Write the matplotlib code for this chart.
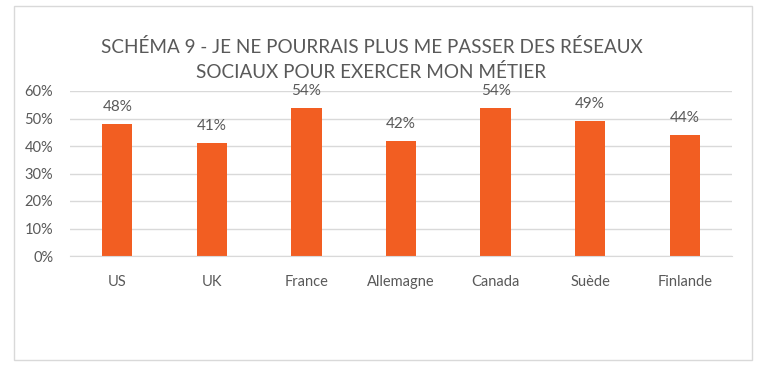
import matplotlib.pyplot as plt
from matplotlib.patches import Rectangle
from matplotlib.ticker import PercentFormatter

pays = ['US', 'UK', 'France', 'Allemagne', 'Canada', 'Suède', 'Finlande']
valeurs = [48, 41, 54, 42, 54, 49, 44]

orange = '#F25E22'
gris = '#595959'

plt.rcParams['font.family'] = ['Lato', 'DejaVu Sans']

fig = plt.figure(figsize=(7.58, 3.71), dpi=100)
# cadre gris autour du graphique
fig.patches.append(Rectangle((14 / 758, 1 - 360 / 371), 738 / 758, 354 / 371,
                             transform=fig.transFigure, fill=False,
                             edgecolor='#D9D9D9', lw=1))

ax = fig.add_axes([70 / 758, 1 - 256 / 371, 662 / 758, 165 / 371])
x = range(len(pays))
bars = ax.bar(x, valeurs, width=0.32, color=orange, zorder=2)
for b, v in zip(bars, valeurs):
    ax.text(b.get_x() + b.get_width() / 2, v + 3.6, f'{v}%', ha='center',
            va='bottom', fontsize=11, color=gris)

ax.set_xlim(-0.5, len(pays) - 0.5)
ax.set_ylim(0, 60)
ax.set_yticks(range(0, 61, 10))
ax.yaxis.set_major_formatter(PercentFormatter(decimals=0))
ax.set_xticks(list(x))
ax.set_xticklabels(pays)
ax.grid(axis='y', color='#D9D9D9', lw=1, zorder=0)
for s in ['top', 'right', 'left']:
    ax.spines[s].set_visible(False)
ax.spines['bottom'].set_color('#D9D9D9')
ax.tick_params(axis='both', length=0, labelsize=10.5, labelcolor=gris)
ax.tick_params(axis='x', pad=14)
ax.tick_params(axis='y', pad=12)

fig.text(0.49, 0.873, 'SCHÉMA 9 - JE NE POURRAIS PLUS ME PASSER DES RÉSEAUX',
         ha='center', va='center', fontsize=13.6, color=gris)
fig.text(0.49, 0.806, 'SOCIAUX POUR EXERCER MON MÉTIER',
         ha='center', va='center', fontsize=13.6, color=gris)

fig.savefig('out.png', dpi=100)
